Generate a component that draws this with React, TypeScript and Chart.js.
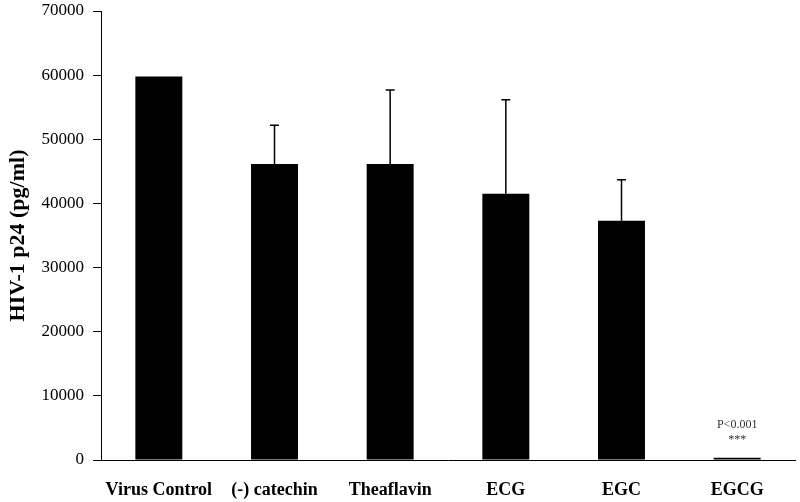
import React, { useEffect, useRef } from "react";
import { Chart, registerables } from "chart.js";

Chart.register(...registerables);

const categories = ["Virus Control", "(-) catechin", "Theaflavin", "ECG", "EGC", "EGCG"];
const means = [59800, 46150, 46150, 41520, 37310, 350];
const errorsUp = [0, 6030, 11540, 14650, 6390, 0];
const yTicksMax = 70000;
const yTicksStep = 10000;
const yTitle = "HIV-1 p24 (pg/ml)";
const annotationIndex = 5;
const annotationLines = ["P<0.001", "***"];

const FONT = '"Liberation Serif", "Times New Roman", Times, serif';

const errorBarPlugin = {
  id: "errorBars",
  afterDatasetsDraw(chart: any) {
    const ctx = chart.ctx;
    const meta = chart.getDatasetMeta(0);
    const yScale = chart.scales.y;
    ctx.save();
    ctx.strokeStyle = "#000";
    ctx.lineWidth = 1.5;
    meta.data.forEach((bar: any, i: number) => {
      const e = errorsUp[i];
      if (!e) return;
      const x = bar.x;
      const yTop = yScale.getPixelForValue(means[i] + e);
      const yBase = yScale.getPixelForValue(means[i]);
      ctx.beginPath();
      ctx.moveTo(x, yBase);
      ctx.lineTo(x, yTop);
      ctx.moveTo(x - 4.5, yTop);
      ctx.lineTo(x + 4.5, yTop);
      ctx.stroke();
    });
    const bar = meta.data[annotationIndex];
    if (bar) {
      ctx.fillStyle = "#333";
      ctx.textAlign = "center";
      ctx.textBaseline = "alphabetic";
      ctx.font = `12px ${FONT}`;
      const yBase = yScale.getPixelForValue(0);
      ctx.fillText(annotationLines[0], bar.x, yBase - 32);
      ctx.fillText(annotationLines[1], bar.x, yBase - 17);
    }
    ctx.restore();
  },
};

export default function App() {
  const ref = useRef<HTMLCanvasElement | null>(null);
  useEffect(() => {
    if (!ref.current) return;
    const chart = new Chart(ref.current, {
      type: "bar",
      data: {
        labels: categories,
        datasets: [
          {
            data: means,
            backgroundColor: "#000",
            borderWidth: 0,
            categoryPercentage: 1,
            barPercentage: 0.406,
          },
        ],
      },
      options: {
        responsive: false,
        animation: false,
        layout: { padding: { top: 11, right: 5, left: 0, bottom: 0 } },
        plugins: { legend: { display: false }, tooltip: { enabled: false } },
        scales: {
          x: {
            grid: { display: false },
            border: { display: true, color: "#000", width: 1 },
            ticks: {
              color: "#000",
              padding: 12,
              maxRotation: 0,
              autoSkip: false,
              font: { family: FONT, size: 18, weight: "bold" },
            },
            afterFit(scale: any) {
              scale.height = 42;
              scale.paddingLeft = 0;
              scale.paddingRight = 0;
            },
          },
          y: {
            min: 0,
            max: yTicksMax,
            ticks: {
              stepSize: yTicksStep,
              color: "#000",
              padding: 9,
              font: { family: FONT, size: 17 },
              callback: (v: any) => String(v),
            },
            grid: {
              display: true,
              drawOnChartArea: false,
              drawTicks: true,
              tickLength: 8,
              color: "#000",
            },
            border: { display: true, color: "#000", width: 1 },
            title: {
              display: true,
              text: yTitle,
              color: "#000",
              padding: { top: 5, bottom: 0 },
              font: { family: FONT, size: 22, weight: "bold" },
            },
            afterFit(scale: any) {
              scale.width = 101;
              scale.paddingTop = 0;
              scale.paddingBottom = 0;
            },
          },
        },
      },
      plugins: [errorBarPlugin],
    });
    return () => chart.destroy();
  }, []);
  return (
    <div style={{ position: "absolute", left: 0, top: 0, width: 800, height: 502, background: "#fff" }}>
      <canvas ref={ref} width={800} height={502} />
    </div>
  );
}
